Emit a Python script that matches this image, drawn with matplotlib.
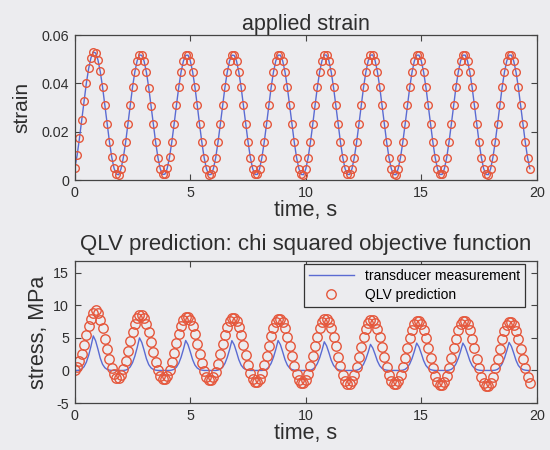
import numpy as np
import matplotlib
matplotlib.use("Agg")
import matplotlib.pyplot as plt

plt.rcParams["font.family"] = ["Liberation Sans", "DejaVu Sans"]

# Sampled strain input (sampling interval 0.1 s)
strain = [
    0.0050, 0.0102, 0.0172, 0.0248, 0.0327, 0.0401, 0.0462, 0.0506, 0.0530, 0.0526,
    0.0498, 0.0450, 0.0386, 0.0310, 0.0232, 0.0158, 0.0094, 0.0048, 0.0024, 0.0022,
    0.0046, 0.0092, 0.0156, 0.0232, 0.0310, 0.0385, 0.0448, 0.0494, 0.0518, 0.0516,
    0.0492, 0.0446, 0.0383, 0.0308, 0.0230, 0.0156, 0.0092, 0.0046, 0.0023, 0.0024,
    0.0048, 0.0094, 0.0158, 0.0232, 0.0310, 0.0384, 0.0447, 0.0492, 0.0516, 0.0517,
    0.0494, 0.0448, 0.0385, 0.0310, 0.0231, 0.0156, 0.0092, 0.0046, 0.0022, 0.0023,
    0.0047, 0.0093, 0.0157, 0.0231, 0.0309, 0.0384, 0.0447, 0.0493, 0.0517, 0.0516,
    0.0493, 0.0447, 0.0384, 0.0309, 0.0231, 0.0157, 0.0093, 0.0047, 0.0023, 0.0023,
    0.0047, 0.0093, 0.0157, 0.0231, 0.0309, 0.0384, 0.0447, 0.0493, 0.0517, 0.0517,
    0.0493, 0.0447, 0.0384, 0.0309, 0.0231, 0.0157, 0.0093, 0.0047, 0.0023, 0.0022,
    0.0046, 0.0092, 0.0156, 0.0230, 0.0309, 0.0384, 0.0448, 0.0494, 0.0518, 0.0517,
    0.0493, 0.0447, 0.0384, 0.0309, 0.0231, 0.0157, 0.0093, 0.0047, 0.0023, 0.0023,
    0.0047, 0.0093, 0.0157, 0.0231, 0.0309, 0.0384, 0.0447, 0.0493, 0.0517, 0.0518,
    0.0494, 0.0448, 0.0385, 0.0310, 0.0232, 0.0157, 0.0093, 0.0047, 0.0023, 0.0022,
    0.0047, 0.0093, 0.0157, 0.0231, 0.0309, 0.0384, 0.0447, 0.0493, 0.0517, 0.0517,
    0.0493, 0.0447, 0.0384, 0.0309, 0.0231, 0.0157, 0.0093, 0.0047, 0.0023, 0.0023,
    0.0047, 0.0093, 0.0157, 0.0231, 0.0309, 0.0384, 0.0447, 0.0493, 0.0517, 0.0517,
    0.0493, 0.0447, 0.0384, 0.0309, 0.0231, 0.0157, 0.0093, 0.0047, 0.0023, 0.0022,
    0.0046, 0.0093, 0.0157, 0.0231, 0.0309, 0.0384, 0.0447, 0.0493, 0.0517, 0.0517,
    0.0493, 0.0447, 0.0384, 0.0309, 0.0231, 0.0157, 0.0093, 0.0047,
]

# Measured stress from the load transducer, MPa
transducer = [
    0.00, 0.00, 0.05, 0.21, 0.58, 1.27, 2.33, 3.71, 5.30, 4.56,
    3.29, 1.91, 0.95, 0.42, 0.16, 0.05, 0.00, 0.00, 0.00, 0.00,
    0.00, 0.00, 0.05, 0.20, 0.55, 1.20, 2.20, 3.50, 5.00, 4.30,
    3.10, 1.80, 0.90, 0.40, 0.15, 0.05, 0.00, 0.00, 0.00, 0.00,
    0.00, 0.00, 0.05, 0.18, 0.51, 1.10, 2.02, 3.22, 4.60, 3.96,
    2.85, 1.66, 0.83, 0.37, 0.14, 0.05, 0.00, 0.00, 0.00, 0.00,
    0.00, 0.00, 0.05, 0.18, 0.50, 1.09, 2.00, 3.20, 4.58, 3.94,
    2.84, 1.65, 0.82, 0.37, 0.14, 0.05, 0.00, 0.00, 0.00, 0.00,
    0.00, 0.00, 0.05, 0.18, 0.51, 1.10, 2.02, 3.22, 4.60, 3.96,
    2.85, 1.66, 0.83, 0.37, 0.14, 0.05, 0.00, 0.00, 0.00, 0.00,
    0.00, 0.00, 0.04, 0.18, 0.48, 1.06, 1.94, 3.08, 4.40, 3.78,
    2.73, 1.58, 0.79, 0.35, 0.13, 0.04, 0.00, 0.00, 0.00, 0.00,
    0.00, 0.00, 0.04, 0.16, 0.44, 0.96, 1.76, 2.80, 4.00, 3.44,
    2.48, 1.44, 0.72, 0.32, 0.12, 0.04, 0.00, 0.00, 0.00, 0.00,
    0.00, 0.00, 0.04, 0.17, 0.46, 1.01, 1.85, 2.94, 4.20, 3.61,
    2.60, 1.51, 0.76, 0.34, 0.13, 0.04, 0.00, 0.00, 0.00, 0.00,
    0.00, 0.00, 0.04, 0.17, 0.46, 1.01, 1.85, 2.94, 4.20, 3.61,
    2.60, 1.51, 0.76, 0.34, 0.13, 0.04, 0.00, 0.00, 0.00, 0.00,
    0.00, 0.00, 0.04, 0.17, 0.47, 1.03, 1.89, 3.01, 4.30, 3.70,
    2.67, 1.55, 0.77, 0.34, 0.13, 0.04, 0.00, 0.00,
]

# Quasi-linear viscoelastic model prediction, MPa
qlv = [
    0.00, 0.50, 1.40, 2.60, 3.90, 5.40, 6.80, 7.90, 8.80, 9.25,
    8.75, 7.80, 6.45, 4.90, 3.25, 1.70, 0.35, -0.60, -1.15, -1.15,
    -0.67, 0.24, 1.48, 2.94, 4.46, 5.92, 7.16, 8.07, 8.54, 8.54,
    8.06, 7.14, 5.87, 4.38, 2.82, 1.33, 0.07, -0.86, -1.34, -1.34,
    -0.87, 0.02, 1.25, 2.69, 4.21, 5.65, 6.88, 7.77, 8.24, 8.24,
    7.76, 6.85, 5.60, 4.12, 2.58, 1.10, -0.15, -1.06, -1.54, -1.54,
    -1.07, -0.18, 1.05, 2.49, 4.01, 5.45, 6.68, 7.57, 8.04, 8.04,
    7.56, 6.64, 5.37, 3.88, 2.32, 0.83, -0.44, -1.36, -1.84, -1.84,
    -1.37, -0.46, 0.78, 2.24, 3.76, 5.22, 6.46, 7.37, 7.84, 7.84,
    7.36, 6.45, 5.20, 3.72, 2.18, 0.70, -0.55, -1.46, -1.94, -1.94,
    -1.46, -0.55, 0.70, 2.18, 3.72, 5.20, 6.45, 7.36, 7.84, 7.84,
    7.36, 6.44, 5.17, 3.68, 2.12, 0.63, -0.64, -1.56, -2.04, -2.04,
    -1.56, -0.65, 0.60, 2.08, 3.62, 5.10, 6.35, 7.26, 7.74, 7.74,
    7.26, 6.34, 5.07, 3.58, 2.02, 0.53, -0.74, -1.66, -2.14, -2.14,
    -1.66, -0.75, 0.50, 1.98, 3.52, 5.00, 6.25, 7.16, 7.64, 7.64,
    7.16, 6.24, 4.97, 3.48, 1.92, 0.43, -0.84, -1.76, -2.24, -2.24,
    -1.76, -0.85, 0.40, 1.88, 3.42, 4.90, 6.15, 7.06, 7.54, 7.54,
    7.06, 6.14, 4.87, 3.38, 1.82, 0.33, -0.94, -1.86, -2.34, -2.34,
    -1.86, -0.95, 0.30, 1.78, 3.32, 4.80, 6.05, 6.96, 7.44, 7.44,
    6.96, 6.05, 4.80, 3.32, 1.78, 0.30, -0.95, -1.86,
]

time = np.round(np.arange(len(strain)) * 0.1, 1)

x_ticks = [0, 5, 10, 15, 20]
strain_ticks = [0, 0.02, 0.04, 0.06]
strain_ticklabels = ["0", "0.02", "0.04", "0.06"]
stress_ticks = [-5, 0, 5, 10, 15]

BG = "#ECECEF"
LINE = "#5B6BD2"
CIRC = "#E5573C"
INK = "#2E2E2E"
BIG = 15.5

fig = plt.figure(figsize=(5.5, 4.5), dpi=100, facecolor=BG)

ax1 = fig.add_axes([0.136, 0.600, 0.840, 0.322], facecolor=BG)
ax2 = fig.add_axes([0.136, 0.1044, 0.840, 0.3156], facecolor=BG)


def style(ax):
    for s in ax.spines.values():
        s.set_color("#444444")
        s.set_linewidth(0.9)
    ax.tick_params(direction="in", top=True, right=True, length=4,
                   width=0.8, color="#444444", labelsize=10.3,
                   labelcolor=INK, pad=4)
    ax.set_xlim(0, 20)
    ax.set_xticks(x_ticks)
    ax.set_xticklabels([str(v) for v in x_ticks])
    ax.set_xlabel("time, s", fontsize=BIG, color=INK, labelpad=0)


# upper panel: applied strain
ax1.plot(time, strain, color=LINE, lw=1.0)
ax1.plot(time, strain, linestyle="none", marker="o", ms=5.5,
         mfc="none", mec=CIRC, mew=1.0)
style(ax1)
ax1.set_ylim(0, 0.06)
ax1.set_yticks(strain_ticks)
ax1.set_yticklabels(strain_ticklabels)
ax1.set_ylabel("strain", fontsize=15, color=INK, labelpad=7)
ax1.set_title("applied strain", fontsize=BIG, color=INK, pad=4)

# lower panel: stress
ax2.plot(time, transducer, color=LINE, lw=1.0, label="transducer measurement")
ax2.plot(time, qlv, linestyle="none", marker="o", ms=6.8,
         mfc="none", mec=CIRC, mew=1.0, label="QLV prediction")
style(ax2)
ax2.set_ylim(-5, 16.8)
ax2.set_yticks(stress_ticks)
ax2.set_yticklabels([str(v) for v in stress_ticks])
ax2.set_ylabel("stress, MPa", fontsize=BIG, color=INK, labelpad=3)
ax2.set_title("QLV prediction: chi squared objective function",
              fontsize=16, color=INK, pad=8)

leg = ax2.legend(loc="upper right", bbox_to_anchor=(0.974, 0.979),
                 borderaxespad=0, fontsize=10, frameon=True, fancybox=False,
                 edgecolor="#333333", facecolor=BG, framealpha=1,
                 handlelength=3.2, handletextpad=0.8, borderpad=0.35,
                 labelspacing=0.35)
leg.get_frame().set_linewidth(0.9)

fig.savefig("out.png", dpi=100, facecolor=BG)
